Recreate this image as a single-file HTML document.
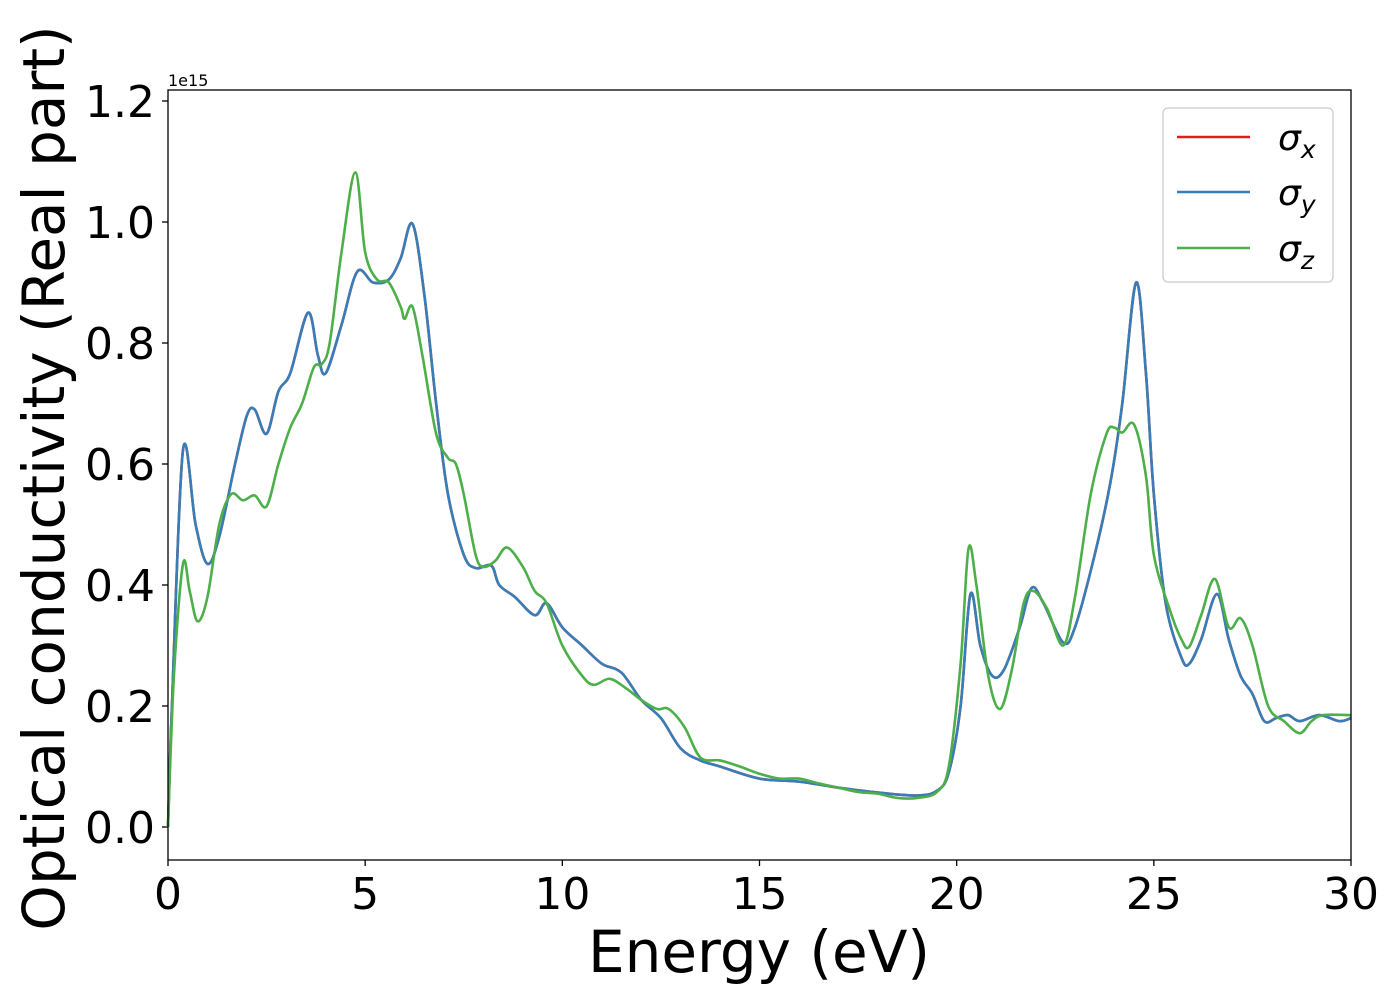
<!DOCTYPE html>
<html><head><meta charset="utf-8"><style>
body{margin:0;background:#fff;}
svg text{font-family:"DejaVu Sans","Liberation Sans",sans-serif;fill:#000;}
</style></head><body>
<svg width="1400" height="1000" viewBox="0 0 1400 1000" xmlns="http://www.w3.org/2000/svg">
<rect width="1400" height="1000" fill="#fff"/>
<g id="ticks"></g>
<g id="series"></g>
<rect x="168" y="90" width="1183" height="770" fill="none" stroke="#000" stroke-width="1.3"/>
<text x="168" y="86" font-size="16">1e15</text>
<text x="759" y="972" font-size="58" text-anchor="middle">Energy (eV)</text>
<text transform="translate(64,478) rotate(-90)" font-size="58" text-anchor="middle">Optical conductivity (Real part)</text>
<g>
<rect x="1163" y="108" width="170" height="174" rx="5" fill="#fff" fill-opacity="0.8" stroke="#ccc" stroke-width="1.3"/>
<line x1="1177" y1="137" x2="1250" y2="137" stroke="#e41a1c" stroke-width="2.6"/>
<text x="1278" y="150" font-size="36" font-style="italic">σ<tspan font-size="25" dy="8">x</tspan></text>
<line x1="1177" y1="192" x2="1250" y2="192" stroke="#377eb8" stroke-width="2.6"/>
<text x="1278" y="205" font-size="36" font-style="italic">σ<tspan font-size="25" dy="8">y</tspan></text>
<line x1="1177" y1="248" x2="1250" y2="248" stroke="#4daf4a" stroke-width="2.6"/>
<text x="1278" y="261" font-size="36" font-style="italic">σ<tspan font-size="25" dy="8">z</tspan></text>
</g>
</svg>
<script>
const xTicks=[0,5,10,15,20,25,30];
const yTicks=[0.0,0.2,0.4,0.6,0.8,1.0,1.2];
const energyXY=[0,0.1,0.38,0.7,1.0,1.3,1.7,2.0,2.2,2.5,2.8,3.1,3.55,3.8,4.0,4.4,4.8,5.2,5.6,5.9,6.2,6.5,6.8,7.1,7.5,7.8,8.2,8.4,8.8,9.3,9.6,10,10.5,11,11.5,12,12.5,13,13.5,14,15,16,17,18,19,19.5,19.8,20.1,20.35,20.6,20.9,21.2,21.6,21.9,22.2,22.7,23.0,23.5,23.9,24.2,24.55,24.8,25.0,25.3,25.7,25.9,26.2,26.6,26.9,27.2,27.5,27.8,28.1,28.4,28.7,29.2,29.7,30];
const sigmaXY=[0,0.2,0.623,0.5,0.435,0.48,0.6,0.68,0.69,0.65,0.72,0.75,0.85,0.78,0.75,0.83,0.918,0.9,0.905,0.94,0.997,0.88,0.7,0.55,0.45,0.428,0.432,0.4,0.38,0.35,0.37,0.33,0.3,0.27,0.255,0.21,0.18,0.13,0.11,0.1,0.08,0.075,0.065,0.057,0.052,0.06,0.09,0.2,0.385,0.3,0.25,0.26,0.33,0.395,0.37,0.305,0.33,0.45,0.57,0.7,0.9,0.75,0.55,0.37,0.28,0.27,0.31,0.385,0.31,0.25,0.22,0.175,0.18,0.185,0.175,0.185,0.175,0.18];
const energyZ=[0,0.15,0.38,0.55,0.75,1.0,1.3,1.6,1.9,2.2,2.5,2.8,3.1,3.4,3.7,3.9,4.1,4.4,4.75,5.0,5.3,5.6,5.9,6.0,6.2,6.45,6.8,7.1,7.3,7.5,7.8,8.0,8.3,8.6,9.0,9.3,9.6,10,10.5,10.8,11.2,11.6,12,12.4,12.7,13.1,13.5,14.0,14.5,15,15.5,16,16.5,17,17.5,18,18.5,19,19.5,19.8,20.1,20.3,20.5,20.8,21.1,21.4,21.7,21.95,22.3,22.7,23.0,23.4,23.8,24.0,24.2,24.5,24.8,25.0,25.4,25.7,25.9,26.2,26.55,26.9,27.2,27.5,27.9,28.3,28.7,29.0,29.3,30];
const sigmaZ=[0,0.25,0.435,0.39,0.34,0.38,0.5,0.55,0.54,0.548,0.53,0.6,0.66,0.7,0.76,0.765,0.8,0.95,1.082,0.95,0.905,0.9,0.86,0.84,0.86,0.78,0.65,0.61,0.6,0.55,0.45,0.43,0.44,0.462,0.43,0.39,0.37,0.3,0.25,0.235,0.245,0.23,0.21,0.195,0.195,0.165,0.115,0.11,0.1,0.088,0.08,0.08,0.072,0.065,0.058,0.055,0.048,0.048,0.058,0.1,0.27,0.46,0.4,0.25,0.195,0.26,0.37,0.39,0.36,0.3,0.38,0.55,0.65,0.66,0.652,0.665,0.58,0.45,0.36,0.31,0.298,0.35,0.41,0.33,0.345,0.3,0.2,0.175,0.155,0.175,0.185,0.185];
const X=e=>168+e*(1183/30);
const Y=v=>827-v*605;
const NS='http://www.w3.org/2000/svg';
const tg=document.getElementById('ticks');
xTicks.forEach(t=>{
  const l=document.createElementNS(NS,'line');
  l.setAttribute('x1',X(t));l.setAttribute('x2',X(t));l.setAttribute('y1',860);l.setAttribute('y2',866);l.setAttribute('stroke','#000');l.setAttribute('stroke-width','1.3');
  
  
  tg.appendChild(l);
  const tx=document.createElementNS(NS,'text');
  tx.setAttribute('x',X(t));tx.setAttribute('y',909);tx.setAttribute('font-size','44');tx.setAttribute('text-anchor','middle');
  tx.textContent=t;
  
  
  tg.appendChild(tx);
});
yTicks.forEach(t=>{
  const l=document.createElementNS(NS,'line');
  l.setAttribute('x1',162);l.setAttribute('x2',168);l.setAttribute('y1',Y(t));l.setAttribute('y2',Y(t));l.setAttribute('stroke','#000');l.setAttribute('stroke-width','1.3');
  
  
  tg.appendChild(l);
  const tx=document.createElementNS(NS,'text');
  tx.setAttribute('x',155);tx.setAttribute('y',Y(t)+16);tx.setAttribute('font-size','44');tx.setAttribute('text-anchor','end');
  tx.textContent=t.toFixed(1);
  
  
  tg.appendChild(tx);
});
function smoothPath(xs,ys){
  const p=xs.map((e,i)=>[X(e),Y(ys[i])]);
  let d='M'+p[0][0]+','+p[0][1];
  for(let i=0;i<p.length-1;i++){
    const p0=p[Math.max(0,i-1)],p1=p[i],p2=p[i+1],p3=p[Math.min(p.length-1,i+2)];
    const c1=[p1[0]+(p2[0]-p0[0])/6,p1[1]+(p2[1]-p0[1])/6];
    const c2=[p2[0]-(p3[0]-p1[0])/6,p2[1]-(p3[1]-p1[1])/6];
    d+=` C${c1[0]},${c1[1]} ${c2[0]},${c2[1]} ${p2[0]},${p2[1]}`;
  }
  return d;
}
const sg=document.getElementById('series');
function addLine(xs,ys,color,name){
  const pa=document.createElementNS(NS,'path');
  pa.setAttribute('d',smoothPath(xs,ys));
  pa.setAttribute('fill','none');pa.setAttribute('stroke',color);pa.setAttribute('stroke-width','2.6');pa.setAttribute('stroke-linejoin','round');
  
  
  sg.appendChild(pa);
}
addLine(energyXY,sigmaXY,'#e41a1c','sigma-x-line');
addLine(energyXY,sigmaXY,'#377eb8','sigma-y-line');
addLine(energyZ,sigmaZ,'#4daf4a','sigma-z-line');
</script>
</body></html>
